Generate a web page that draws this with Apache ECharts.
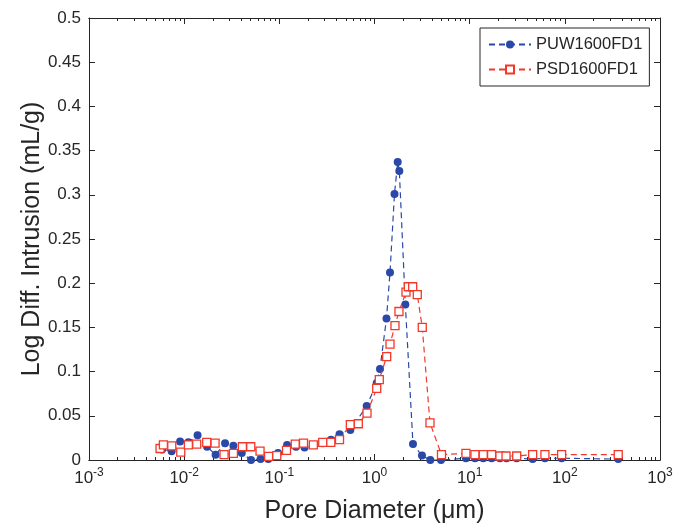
<!DOCTYPE html>
<html>
<head>
<meta charset="utf-8">
<script src="https://cdn.jsdelivr.net/npm/echarts@6/dist/echarts.min.js"></script>
<style>html,body{margin:0;padding:0;background:#fff}#c{width:688px;height:529px}</style>
</head>
<body>
<div id="c"></div>
<script>
// ---- data ----
var seriesNames = ['PUW1600FD1', 'PSD1600FD1'];
var puwX = [0.00586,0.00738,0.00906,0.01107,0.01383,0.01741,0.02138,0.0269,0.0329,0.0403,0.0504,0.0635,0.0766,0.0969,0.1205,0.1497,0.184,0.226,0.2856,0.349,0.429,0.557,0.828,1.055,1.142,1.336,1.455,1.622,1.753,1.823,2.109,2.537,3.154,3.857,4.999,9.14,11.37,13.9,17.0,20.8,24.4,31.2,45.9,61.8,92.5,364];
var puwY = [0.012,0.010,0.021,0.020,0.028,0.015,0.006,0.019,0.016,0.008,0.000,0.001,0.001,0.008,0.017,0.015,0.014,0.017,0.019,0.023,0.029,0.034,0.061,0.087,0.103,0.160,0.212,0.301,0.337,0.327,0.176,0.018,0.005,0.000,0.000,0.002,0.002,0.002,0.002,0.002,0.002,0.002,0.001,0.002,0.002,0.001];
var psdX = [0.00558,0.00605,0.00741,0.00921,0.01107,0.01355,0.01726,0.02113,0.02625,0.0329,0.0409,0.0501,0.0627,0.0771,0.0940,0.119,0.147,0.1795,0.2276,0.2856,0.3475,0.429,0.557,0.676,0.834,1.055,1.123,1.343,1.455,1.642,1.808,2.142,2.265,2.519,2.815,3.177,3.828,5.056,9.14,11.37,13.9,17.0,20.8,24.1,31.2,45.9,61.8,92.5,364];
var psdY = [0.013,0.017,0.016,0.009,0.017,0.018,0.020,0.019,0.006,0.0075,0.015,0.015,0.010,0.004,0.005,0.011,0.018,0.019,0.017,0.020,0.020,0.023,0.040,0.041,0.053,0.081,0.091,0.117,0.131,0.152,0.168,0.190,0.196,0.196,0.187,0.150,0.042,0.006,0.0075,0.006,0.006,0.006,0.0045,0.0045,0.0045,0.006,0.006,0.006,0.006];
var xMajor = [1e-3,1e-2,1e-1,1,10,100,1000];
var yTicks = [0,0.05,0.1,0.15,0.2,0.25,0.3,0.35,0.4,0.45,0.5];
var xTitle = 'Pore Diameter (\u03bcm)';
var yTitle = 'Log Diff. Intrusion (mL/g)';

var xMinor = [];
for (var e = -3; e < 3; e++) for (var k = 2; k <= 9; k++) xMinor.push(k * Math.pow(10, e));

function zip(a, b) { return a.map(function (v, i) { return [v, b[i]]; }); }

var axisColor = '#262626';
var font = 'Liberation Sans, Arial, sans-serif';

function xAx(pos, major, show) {
  return {
    type: 'log', logBase: 10, min: 0.001, max: 1000, position: pos,
    gridIndex: 0,
    axisLine: { show: true, onZero: false, lineStyle: { color: axisColor, width: 1 } },
    axisTick: { show: true, inside: true, length: major ? 6 : 3, customValues: major ? xMajor : xMinor, lineStyle: { color: axisColor } },
    axisLabel: show ? {
      show: true, customValues: xMajor, margin: 7, color: axisColor, fontFamily: font, fontSize: 17,
      formatter: function (v) { return '10{s|' + Math.round(Math.log10(v)) + '}'; },
      rich: { s: { fontSize: 12, verticalAlign: 'top', padding: [0, 0, 10, 0], color: axisColor, fontFamily: font } }
    } : { show: false },
    splitLine: { show: false },
    name: show ? xTitle : '', nameLocation: 'middle', nameGap: 39,
    nameTextStyle: { fontFamily: font, fontSize: 25, color: axisColor }
  };
}

var option = {
  animation: false,
  backgroundColor: '#fff',
  grid: { left: 89, right: 28, top: 18, bottom: 69, containLabel: false },
  xAxis: [xAx('bottom', true, true), xAx('bottom', false, false), xAx('top', true, false), xAx('top', false, false)],
  yAxis: [
    {
      type: 'value', min: 0, max: 0.5, interval: 0.05, position: 'left',
      axisLine: { show: true, onZero: false, lineStyle: { color: axisColor } },
      axisTick: { show: true, inside: true, length: 6, lineStyle: { color: axisColor } },
      axisLabel: { color: axisColor, fontFamily: font, fontSize: 17, margin: 8,
        formatter: function (v) { return String(+v.toFixed(2)); } },
      splitLine: { show: false },
      name: yTitle, nameLocation: 'middle', nameGap: 44, nameMoveOverlap: false,
      nameTextStyle: { fontFamily: font, fontSize: 25, color: axisColor }
    },
    {
      type: 'value', min: 0, max: 0.5, interval: 0.05, position: 'right',
      axisLine: { show: true, onZero: false, lineStyle: { color: axisColor } },
      axisTick: { show: true, inside: true, length: 6, lineStyle: { color: axisColor } },
      axisLabel: { show: false }, splitLine: { show: false }
    }
  ],
  legend: {
    orient: 'vertical', left: 480, top: 28,
    backgroundColor: '#fff', borderColor: axisColor, borderWidth: 1,
    padding: [8, 7, 8, 8], itemGap: 8, itemWidth: 42, itemHeight: 10,
    textStyle: { fontFamily: font, fontSize: 16.5, color: axisColor },
    data: seriesNames
  },
  series: [
    {
      name: seriesNames[0], type: 'line', xAxisIndex: 0, yAxisIndex: 0,
      data: zip(puwX, puwY),
      symbol: 'circle', symbolSize: 8,
      itemStyle: { color: '#2a48a8' },
      lineStyle: { color: '#2a48a8', width: 1.2, type: [6, 4] },
      z: 3
    },
    {
      name: seriesNames[1], type: 'line', xAxisIndex: 0, yAxisIndex: 0,
      data: zip(psdX, psdY),
      symbol: 'rect', symbolSize: 8,
      itemStyle: { color: '#fff', borderColor: '#f2382a', borderWidth: 1.3 },
      lineStyle: { color: '#f2382a', width: 1.2, type: [6, 4] },
      z: 4
    }
  ]
};
var chart = echarts.init(document.getElementById('c'), null, { renderer: 'canvas' });
chart.setOption(option);
</script>
</body>
</html>
